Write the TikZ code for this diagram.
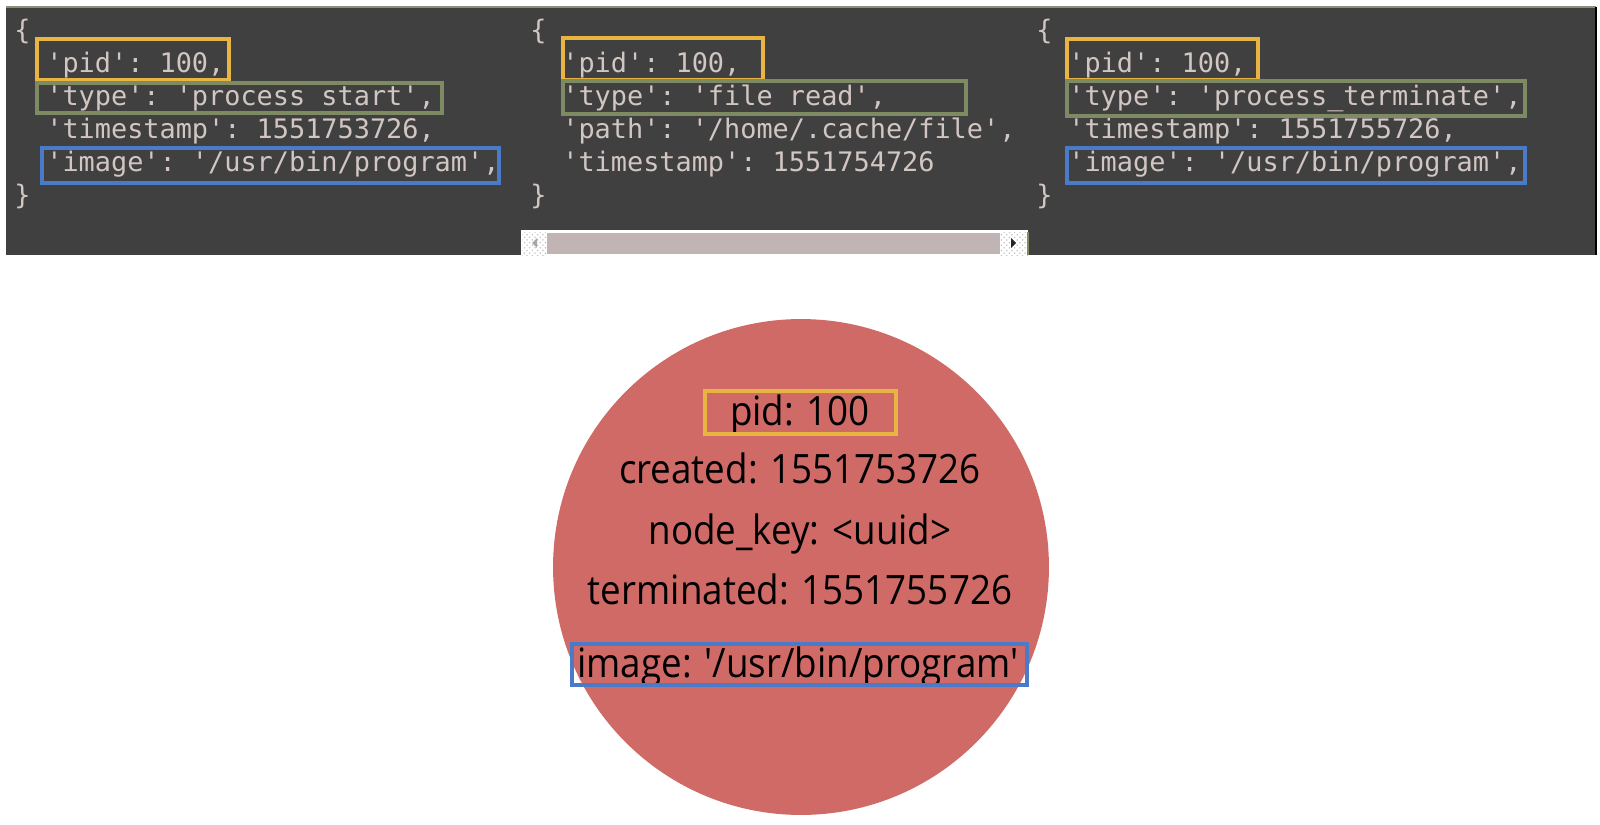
\documentclass[tikz,border=0pt]{standalone}
\usepackage{fontspec}
\setmonofont{DejaVu Sans Mono}
\setsansfont{Open Sans}[Ligatures=TeXOff]
\usepackage{xcolor}
\usetikzlibrary{patterns}

\definecolor{panelbg}{HTML}{404040}
\definecolor{panelrim}{HTML}{8A9078}
\definecolor{codefg}{HTML}{D2C6C2}
\definecolor{pidorange}{HTML}{E8B443}
\definecolor{typegreen}{HTML}{7E8A62}
\definecolor{imageblue}{HTML}{4A7AC8}
\definecolor{procred}{HTML}{CF6A66}
\definecolor{thumbgrey}{HTML}{C0B4B4}

\tikzset{
  code/.style={font=\ttfamily\fontsize{15.3}{18}\selectfont, text=codefg,
    anchor=base west, inner sep=0pt},
  attr/.style={font=\sffamily\fontsize{23}{26}\selectfont, text=black,
    anchor=base, inner sep=0pt, transform shape},
  pidbox/.style={draw=pidorange, line width=2.2pt},
  typebox/.style={draw=typegreen, line width=2.2pt},
  imagebox/.style={draw=imageblue, line width=2.2pt},
}

\begin{document}
\begin{tikzpicture}[x=0.02cm,y=-0.02cm]
  \useasboundingbox (0,0) rectangle (1600,825);

  % dark code panel
  \fill[panelbg] (6,7) rectangle (1596,255);
  \draw[panelrim, line width=0.6pt] (6,7) -- (1596,7);
  \draw[black, line width=0.8pt] (1596,7) -- (1596,255);

  \def\lh{33} \def\topy{39}%

  % event 1: process start
  \node[code] (ea0) at (14,\topy) {\{};
  \foreach \txt [count=\i] in {{'pid': 100,}, {'type': 'process start',},
      {'timestamp': 1551753726,}, {'image': '/usr/bin/program',}}
    \node[code] (ea\i) at (46,\topy+\lh*\i) {\txt};
  \node[code] (ea5) at (14,\topy+\lh*5) {\}};

  % event 2: file read
  \node[code] (eb0) at (530,\topy) {\{};
  \foreach \txt [count=\i] in {{'pid': 100,}, {'type': 'file read',},
      {'path': '/home/.cache/file',}, {'timestamp': 1551754726}}
    \node[code] (eb\i) at (562,\topy+\lh*\i) {\txt};
  \node[code] (eb5) at (530,\topy+\lh*5) {\}};

  % event 3: process terminate
  \node[code] (ec0) at (1036,\topy) {\{};
  \foreach \txt [count=\i] in {{'pid': 100,}, {'type': 'process\_terminate',},
      {'timestamp': 1551755726,}, {'image': '/usr/bin/program',}}
    \node[code] (ec\i) at (1068,\topy+\lh*\i) {\txt};
  \node[code] (ec5) at (1036,\topy+\lh*5) {\}};

  % key boxes
  \draw[pidbox] (37,39) rectangle (229,80);
  \draw[typebox] (37,83) rectangle (442,113);
  \draw[imagebox] (42,148) rectangle (499,183);
  \draw[pidbox] (563,38) rectangle (763,80);
  \draw[typebox] (563,81) rectangle (966,114);
  \draw[pidbox] (1067,39) rectangle (1258,80);
  \draw[typebox] (1067,81) rectangle (1525,116);
  \draw[imagebox] (1067,148) rectangle (1525,183);

  % scrollbar
  \fill[white] (521,230) rectangle (1028,255);
  \fill[pattern=crosshatch dots, pattern color=gray!45] (522,232) rectangle (547,255);
  \fill[pattern=crosshatch dots, pattern color=gray!45] (1000,232) rectangle (1028,255);
  \fill[thumbgrey] (547,233) rectangle (1000,254);
  \fill[gray!70] (532,243) -- (537,238) -- (537,248) -- cycle;
  \fill[black!85] (1016,243) -- (1011,238) -- (1011,248) -- cycle;
  \draw[typegreen, line width=0.6pt] (1028,232) -- (1028,255);

  % merged process node
  \node[circle, fill=procred, minimum size=9.92cm, inner sep=0pt] (proc) at (801,567) {};
  \begin{scope}[xscale=0.91]
    \node[attr] (pid) at (800/0.91,425) {pid: 100};
    \node[attr] (created) at (800/0.91,483) {created: 1551753726};
    \node[attr] (nodekey) at (800/0.91,544) {node\_key: <uuid>};
    \node[attr] (terminated) at (800/0.91,604) {terminated: 1551755726};
    \node[attr] (image) at (798/0.91,677) {image: '/usr/bin/program'};
  \end{scope}
  \draw[pidbox] (705,391) rectangle (896,434);
  \draw[imagebox] (572,644) rectangle (1027,685);
\end{tikzpicture}
\end{document}
